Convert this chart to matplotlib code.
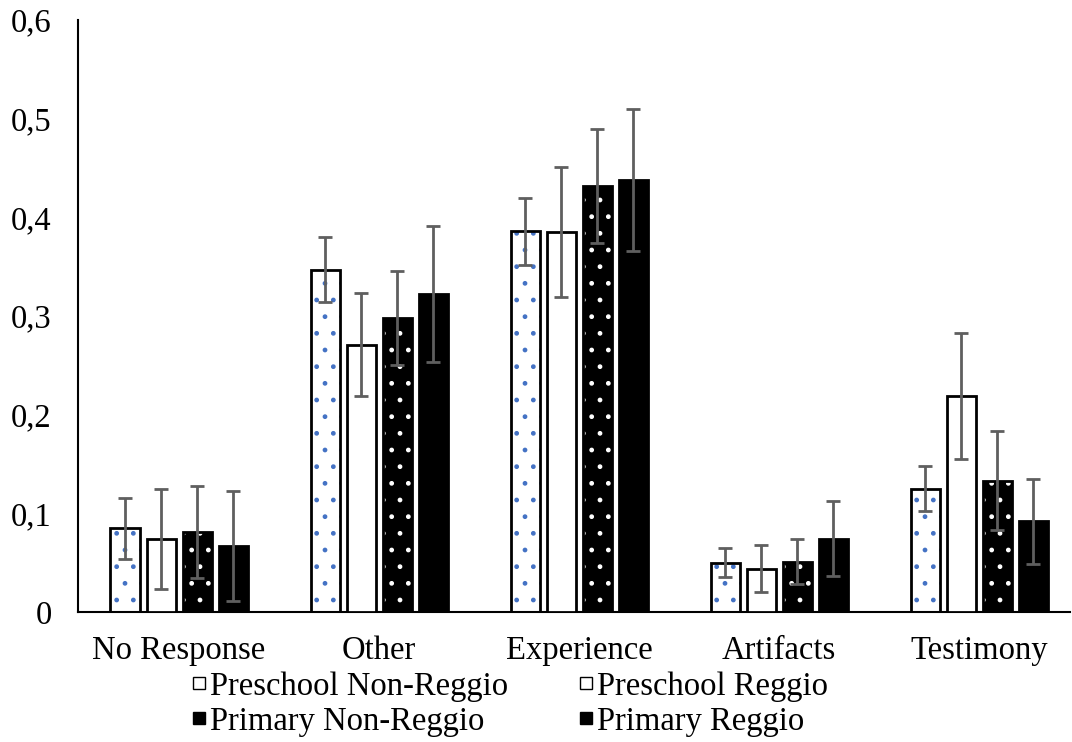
"""Grouped bar chart of response types by school group, with error bars."""

import matplotlib

matplotlib.use("Agg")
import matplotlib.pyplot as plt
import numpy as np
from matplotlib.patches import Patch
from matplotlib.ticker import FixedLocator, FuncFormatter

categories = ["No Response", "Other", "Experience", "Artifacts", "Testimony"]
series_names = ["Preschool Non-Reggio", "Preschool Reggio",
                "Primary Non-Reggio", "Primary Reggio"]

pre_nonreggio = [0.085, 0.347, 0.386, 0.050, 0.125]
pre_nonreggio_err = [0.031, 0.033, 0.034, 0.015, 0.023]
pre_reggio = [0.074, 0.271, 0.385, 0.044, 0.219]
pre_reggio_err = [0.051, 0.052, 0.066, 0.024, 0.064]
prim_nonreggio = [0.081, 0.298, 0.432, 0.051, 0.133]
prim_nonreggio_err = [0.047, 0.048, 0.058, 0.023, 0.050]
prim_reggio = [0.067, 0.322, 0.438, 0.074, 0.092]
prim_reggio_err = [0.056, 0.069, 0.072, 0.038, 0.043]

y_ticks = [0, 0.1, 0.2, 0.3, 0.4, 0.5, 0.6]

BAR_W = 0.145
STEP = 0.18
ERR_COLOR = "#5f5f5f"

plt.rcParams["font.family"] = ["Liberation Serif", "DejaVu Serif"]
plt.rcParams["hatch.linewidth"] = 1.0


def draw_bars(ax, x, vals, errs, face, dot_color, edge):
    # patterned fill first (dots in their own colour), then the outline on top
    if dot_color is not None:
        ax.bar(x, vals, BAR_W, color=face, edgecolor=dot_color, hatch=".",
               linewidth=0, zorder=2)
        ax.bar(x, vals, BAR_W, facecolor="none", edgecolor=edge,
               linewidth=2.0, zorder=3)
    else:
        ax.bar(x, vals, BAR_W, color=face, edgecolor=edge,
               linewidth=2.0, zorder=3)
    ax.errorbar(x, vals, yerr=errs, fmt="none", ecolor=ERR_COLOR,
                elinewidth=2.0, capsize=4.8, capthick=2.0, zorder=4)


def main():
    fig = plt.figure(figsize=(10.72, 7.42), dpi=100)
    ax = fig.add_axes([78 / 1072, 130 / 742, 992 / 1072, 592 / 742])

    x = np.arange(len(categories))
    draw_bars(ax, x - 1.5 * STEP, pre_nonreggio, pre_nonreggio_err,
              "white", "#4472c4", "black")
    draw_bars(ax, x - 0.5 * STEP, pre_reggio, pre_reggio_err,
              "white", None, "black")
    draw_bars(ax, x + 0.5 * STEP, prim_nonreggio, prim_nonreggio_err,
              "black", "white", "black")
    draw_bars(ax, x + 1.5 * STEP, prim_reggio, prim_reggio_err,
              "black", None, "black")

    ax.set_xlim(-0.505, 4.455)
    ax.set_ylim(0, 0.6)
    ax.yaxis.set_major_locator(FixedLocator(y_ticks))
    ax.yaxis.set_major_formatter(
        FuncFormatter(lambda v, _: "0" if v == 0 else f"{v:.1f}".replace(".", ",")))
    ax.set_xticks(x)
    ax.set_xticklabels(categories)
    ax.tick_params(axis="both", length=0, labelsize=23.5)
    ax.tick_params(axis="y", pad=19)
    ax.tick_params(axis="x", pad=17)

    for side in ("top", "right"):
        ax.spines[side].set_visible(False)
    for side in ("left", "bottom"):
        ax.spines[side].set_linewidth(1.5)
        ax.spines[side].set_color("black")

    handles = [
        Patch(facecolor="white", edgecolor="black", linewidth=1.0),
        Patch(facecolor="black", edgecolor="black", linewidth=1.0),
        Patch(facecolor="white", edgecolor="black", linewidth=1.0),
        Patch(facecolor="black", edgecolor="black", linewidth=1.0),
    ]
    labels = [series_names[0], series_names[2], series_names[1], series_names[3]]
    fig.legend(handles, labels, ncol=2, loc="upper left",
               bbox_to_anchor=(193 / 1072, 1 - 671 / 742),
               frameon=False, fontsize=23.5, handlelength=0.38,
               handleheight=0.19, handletextpad=0.14, columnspacing=2.2,
               labelspacing=0.14, borderpad=0, borderaxespad=0)

    fig.savefig("out.png", dpi=100)
    plt.close(fig)


if __name__ == "__main__":
    main()
